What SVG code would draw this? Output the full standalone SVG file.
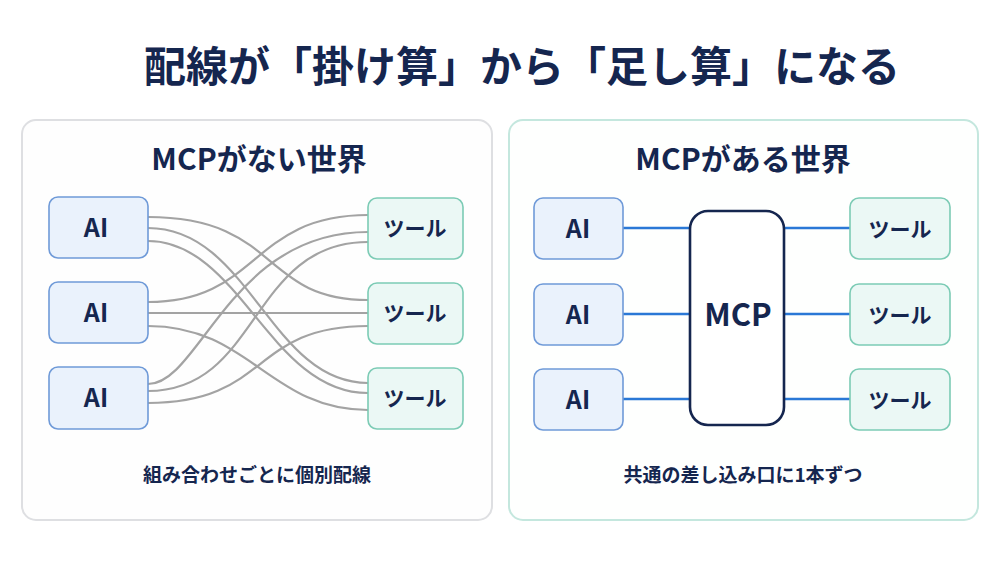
<svg xmlns="http://www.w3.org/2000/svg" width="1000" height="565" viewBox="0 0 1000 565">
<style>
text{font-family:"Noto Sans CJK JP","Noto Sans",sans-serif;font-weight:700;fill:#15264f;text-anchor:middle}
.ai{fill:#eaf2fc;stroke:#6f9ad8;stroke-width:1.6}
.tl{fill:#ebf8f5;stroke:#7ccbb5;stroke-width:1.6}
.w{fill:none;stroke:#a3a3a3;stroke-width:2.2}
.b{stroke:#2a78d6;stroke-width:2.4}
.n{font-size:25px}
.t{font-size:21px}
</style>
<rect width="1000" height="565" fill="#fff"/>
<text x="522" y="82" font-size="42">配線が「掛け算」から「足し算」になる</text>
<rect x="22" y="120" width="470" height="400" rx="14" fill="#fefefe" stroke="#dedfe2" stroke-width="2"/>
<rect x="509" y="120" width="469" height="400" rx="14" fill="#fefffe" stroke="#c4e7de" stroke-width="2"/>
<text x="259" y="170" font-size="30">MCPがない世界</text>
<text x="743" y="170" font-size="30">MCPがある世界</text>
<text x="257" y="482" font-size="19">組み合わせごとに個別配線</text>
<text x="743" y="482" font-size="19">共通の差し込み口に1本ずつ</text>
<g id="wires">
<path class="w" d="M148 217 C280 217 260 300 368 300"/>
<path class="w" d="M148 228 C250 228 270 383 368 383"/>
<path class="w" d="M148 241 C240 241 270 393 368 393"/>
<path class="w" d="M148 302 C260 302 250 215 368 215"/>
<path class="w" d="M148 313 C260 313 260 313 368 313"/>
<path class="w" d="M148 326 C250 326 270 410 368 410"/>
<path class="w" d="M148 384 C200 384 230 232 368 232"/>
<path class="w" d="M148 391 C260 391 250 242 368 242"/>
<path class="w" d="M148 403 C270 403 250 326 368 326"/>
<line class="b" x1="623" y1="228" x2="690" y2="228"/>
<line class="b" x1="623" y1="314" x2="690" y2="314"/>
<line class="b" x1="623" y1="399" x2="690" y2="399"/>
<line class="b" x1="784" y1="228" x2="850" y2="228"/>
<line class="b" x1="784" y1="314" x2="850" y2="314"/>
<line class="b" x1="784" y1="399" x2="850" y2="399"/>
</g>
<g id="l-ai1"><rect class="ai" x="49" y="197" width="99" height="61" rx="9"/><text class="n" x="96" y="237">AI</text></g>
<g id="l-ai2"><rect class="ai" x="49" y="282" width="99" height="61" rx="9"/><text class="n" x="96" y="322">AI</text></g>
<g id="l-ai3"><rect class="ai" x="49" y="367" width="99" height="62" rx="9"/><text class="n" x="96" y="407">AI</text></g>
<g id="l-t1"><rect class="tl" x="368" y="198" width="95" height="61" rx="9"/><text class="t" x="415" y="236">ツール</text></g>
<g id="l-t2"><rect class="tl" x="368" y="283" width="95" height="61" rx="9"/><text class="t" x="415" y="321">ツール</text></g>
<g id="l-t3"><rect class="tl" x="368" y="368" width="95" height="61" rx="9"/><text class="t" x="415" y="406">ツール</text></g>
<g id="r-ai1"><rect class="ai" x="534" y="198" width="89" height="61" rx="9"/><text class="n" x="578" y="238">AI</text></g>
<g id="r-ai2"><rect class="ai" x="534" y="284" width="89" height="61" rx="9"/><text class="n" x="578" y="324">AI</text></g>
<g id="r-ai3"><rect class="ai" x="534" y="369" width="89" height="61" rx="9"/><text class="n" x="578" y="409">AI</text></g>
<g id="mcp"><rect x="690" y="211" width="94" height="214" rx="18" fill="#fff" stroke="#15264f" stroke-width="2.6"/><text x="738" y="326" font-size="31">MCP</text></g>
<g id="r-t1"><rect class="tl" x="850" y="198" width="100" height="61" rx="9"/><text class="t" x="900" y="237">ツール</text></g>
<g id="r-t2"><rect class="tl" x="850" y="284" width="100" height="61" rx="9"/><text class="t" x="900" y="323">ツール</text></g>
<g id="r-t3"><rect class="tl" x="850" y="369" width="100" height="61" rx="9"/><text class="t" x="900" y="408">ツール</text></g>
</svg>
